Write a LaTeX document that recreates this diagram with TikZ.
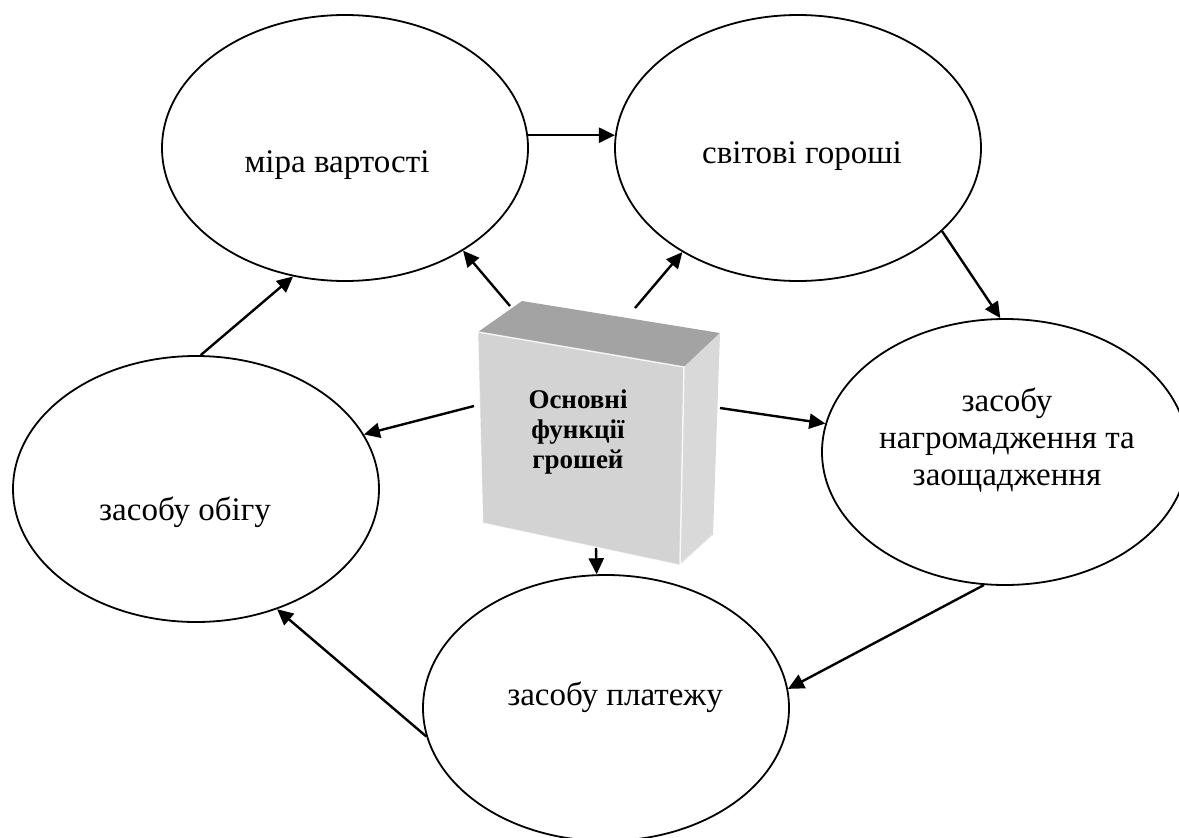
\documentclass[tikz,border=0pt]{standalone}
\usepackage{fontspec}
\setmainfont{Liberation Serif}
\usetikzlibrary{shapes.geometric,arrows.meta}

\definecolor{boxfront}{HTML}{D3D3D3}
\definecolor{boxtop}{HTML}{A3A3A3}
\definecolor{boxside}{HTML}{D9D9D9}

\begin{document}
\begin{tikzpicture}[x=1pt,y=-1pt,
  fn/.style={ellipse,draw,line width=1.8pt,minimum width=366pt,minimum height=266pt,inner sep=0pt},
  lbl/.style={font=\fontsize{33}{37}\selectfont,align=center,inner sep=0pt},
  boxlbl/.style={font=\fontsize{27}{30}\selectfont\bfseries,align=center,inner sep=0pt},
  arr/.style={-{Triangle[length=16pt,width=15pt]},line width=2.4pt}]
\useasboundingbox (0,0) rectangle (1179,838);
\fill[white] (0,0) rectangle (1179,838);

% the five functions
\node[fn] (e1) at (345,148) {};
\node[fn] (e2) at (798,148) {};
\node[fn] (e3) at (1005,452) {};
\node[fn] (e4) at (196,489) {};
\node[fn] (e5) at (606,708) {};

\node[lbl,anchor=base] (t1) at (337,172) {міра вартості};
\node[lbl,anchor=base] (t2) at (802,163) {світові гороші};
\node[lbl] (t3) at (1007,440) {засобу\\нагромадження та\\заощадження};
\node[lbl,anchor=base] (t4) at (185,520) {засобу обігу};
\node[lbl,anchor=base] (t5) at (615,705) {засобу платежу};

% central 3D box
\fill[boxtop] (478,332) -- (522,301) -- (720,333) -- (684,367) -- cycle;
\fill[boxside] (684,367) -- (720,333) -- (713,535) -- (680,565) -- cycle;
\fill[boxfront] (478,332) -- (684,367) -- (680,565) -- (483,523) -- cycle;
\draw[white,line width=1.5pt,opacity=0.8] (478,332) -- (684,367) -- (680,565);
\draw[white,line width=1pt,opacity=0.5] (478,332) -- (483,523);
\draw[white,line width=3pt,opacity=0.6] (483,524) -- (680,566) -- (713,536);
\node[boxlbl] (box) at (578,432) {Основні\\ функції\\ грошей};

\coordinate (b1) at (510,306);
\coordinate (b2) at (635,308);
\coordinate (b3) at (720,408);
\coordinate (b4) at (474,406);
\coordinate (b5) at (596,548);

% connectors from the box
\draw[arr] (b1) -- (e1.-41.7);
\draw[arr] (b2) -- (e2.-138.1);
\draw[arr] (b3) -- (e3.171);
\draw[arr] (b4) -- (e4.18.1);
\draw[arr] (b5) -- (e5.94.3);

% connectors around the ring
\draw[arr] (e1.4) -- (e2.176.3);
\draw[arr] (e2.-30.9) -- (e3.92);
\draw[arr] (e3.-99.8) -- (e5.6.5);
\draw[arr] (e5.-171.6) -- (e4.-56.6);
\draw[arr] (e4.88.7) -- (e1.-112.2);
\end{tikzpicture}
\end{document}
